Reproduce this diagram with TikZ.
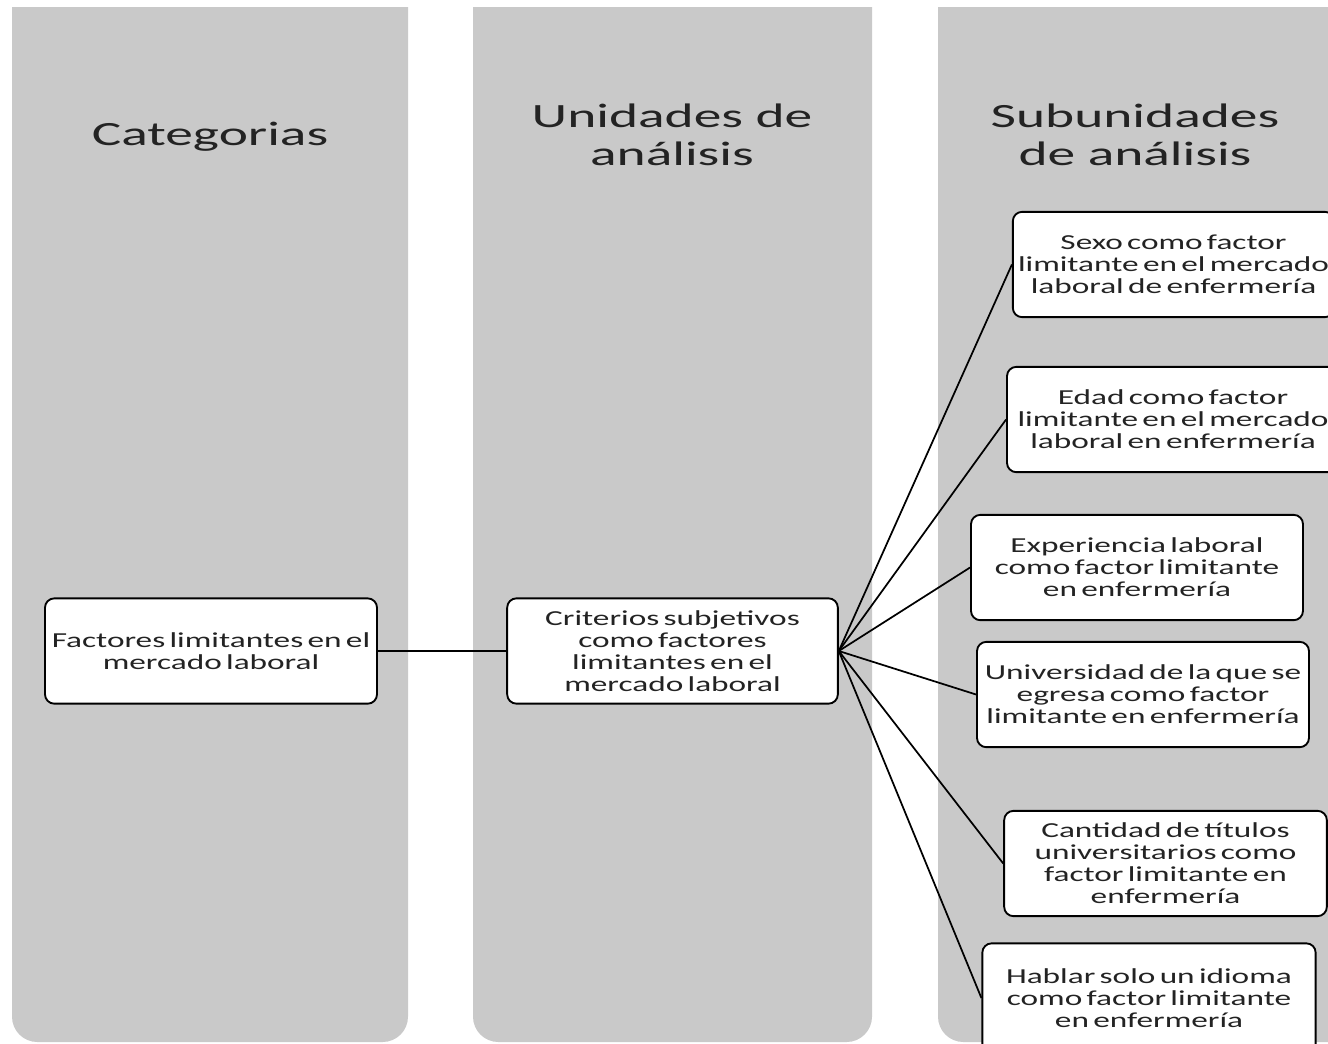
\documentclass[tikz,border=0pt]{standalone}
\usepackage{fontspec}
\setmainfont{Carlito}
\definecolor{colgray}{RGB}{201,201,201}
\definecolor{txt}{RGB}{35,35,35}
\newcommand\wtxt[2]{\raisebox{-2pt}[\height][\depth]{\scalebox{#1}[1]{\begin{tabular}{@{}c@{}}#2\end{tabular}}}}
\newcommand\tightsp{\spaceskip=0.13em plus 0.05em\relax}
\begin{document}
\begin{tikzpicture}[x=0.75pt,y=-0.75pt,
  colbg/.style={fill=colgray},
  title/.style={align=center,font=\fontsize{25.5}{28.5}\selectfont,text=txt},
  box/.style={draw=black,line width=1.4pt,fill=white,rounded corners=7pt,align=center,
    font=\fontsize{16}{16.5}\selectfont\tightsp,text=txt,inner sep=0pt,minimum height=79pt},
  conn/.style={draw=black,line width=1.3pt}]
\useasboundingbox (0,0) rectangle (1328,1043);
\clip (0,0) rectangle (1328,1043);
% columns
\fill[colbg] (12,7) -- (408,7) [rounded corners=19pt] -- (408,1042) -- (12,1042) [sharp corners] -- cycle;
\fill[colbg] (473,7) -- (872,7) [rounded corners=19pt] -- (872,1042) -- (473,1042) [sharp corners] -- cycle;
\fill[colbg] (938,7) -- (1360,7) [rounded corners=19pt] -- (1360,1042) -- (938,1042) [sharp corners] -- cycle;
% titles
\node[title] (t1) at (210,135) {\wtxt{1.63}{Categorias}};
\node[title] (t2) at (672,136) {\wtxt{1.63}{Unidades de\\análisis}};
\node[title] (t3) at (1135,136) {\wtxt{1.63}{Subunidades\\de análisis}};
% boxes
\node[box,minimum width=249pt] (fac) at (211,651) {\wtxt{1.56}{Factores limitantes en el\\mercado laboral}};
\node[box,minimum width=248pt] (cri) at (672.5,651) {\wtxt{1.56}{Criterios subjetivos\\como factores\\limitantes en el\\mercado laboral}};
\node[box,minimum width=241pt] (sex) at (1173.5,264.5) {\wtxt{1.56}{Sexo como factor\\limitante en el mercado\\laboral de enfermería}};
\node[box,minimum width=249pt] (eda) at (1173,419.5) {\wtxt{1.56}{Edad como factor\\limitante en el mercado\\laboral en enfermería}};
\node[box,minimum width=249pt] (exp) at (1137,567.5) {\wtxt{1.56}{Experiencia laboral\\como factor limitante\\en enfermería}};
\node[box,minimum width=249pt] (uni) at (1143,694.5) {\wtxt{1.56}{Universidad de la que se\\egresa como factor\\limitante en enfermería}};
\node[box,minimum width=242pt] (can) at (1165.5,863.5) {\wtxt{1.56}{Cantidad de títulos\\universitarios como\\factor limitante en\\enfermería}};
\node[box,minimum width=250pt,minimum height=82pt] (hab) at (1149,998) {\wtxt{1.56}{Hablar solo un idioma\\como factor limitante\\en enfermería}};
% connectors
\draw[conn] (fac.east) -- (cri.west);
\foreach \n in {sex,eda,exp,uni,can,hab} \draw[conn] (cri.east) -- (\n.west);
\end{tikzpicture}
\end{document}
